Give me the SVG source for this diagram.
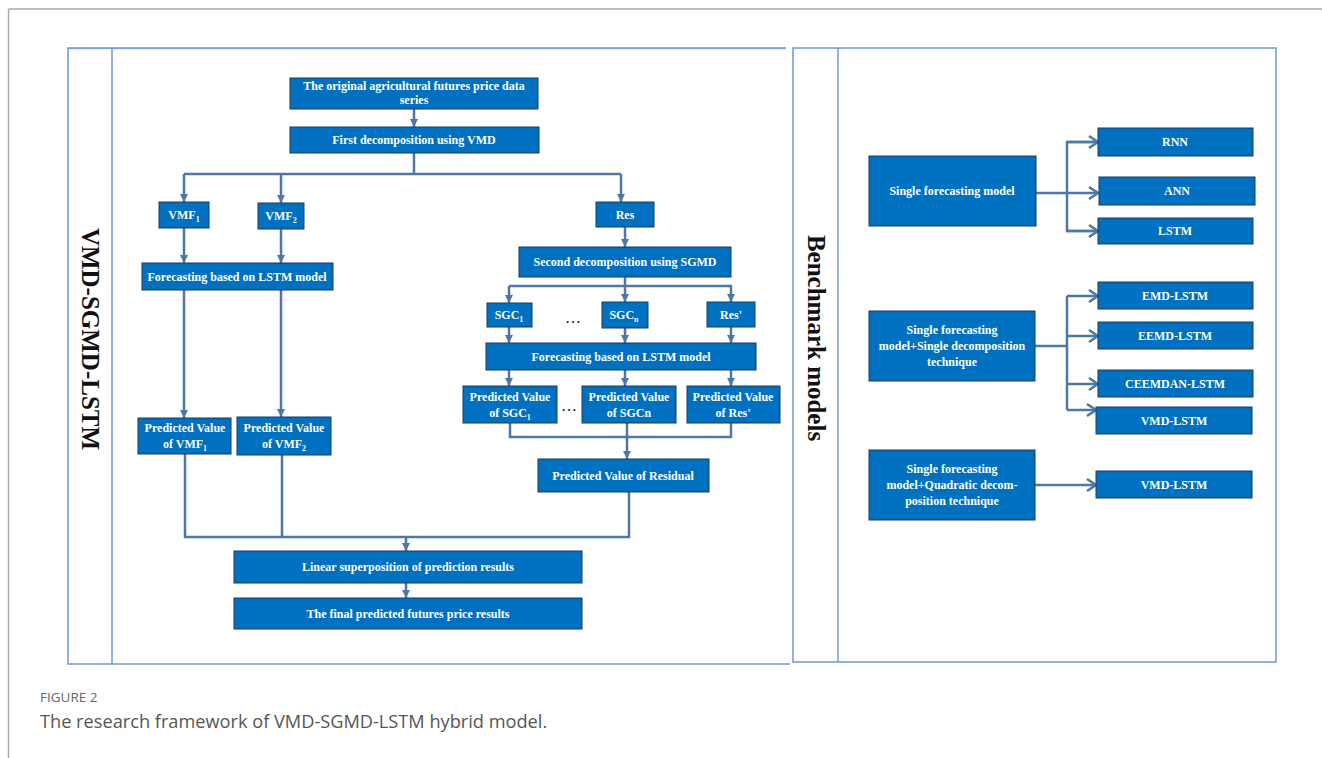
<svg xmlns="http://www.w3.org/2000/svg" width="1322" height="758" viewBox="0 0 1322 758">
<style>
.box{fill:#0070c0;stroke:#1d3a5c;stroke-width:1}
.t{fill:#fff;font-family:"Liberation Serif","Times New Roman",serif;font-weight:bold;font-size:12px;text-anchor:middle}
.c{fill:none;stroke:#4d77a5;stroke-width:2.5}
.panel{fill:none;stroke:#6c9bd2;stroke-width:1.5}
.vt{fill:#111;font-family:"Liberation Serif","Times New Roman",serif;font-weight:bold;font-size:25px;text-anchor:middle}
.dots{fill:#111;font-family:"Liberation Serif","Times New Roman",serif;font-size:16px;text-anchor:middle}
</style>
<defs>
<marker id="ah" markerUnits="userSpaceOnUse" markerWidth="10" markerHeight="10" refX="9" refY="5" orient="auto">
<path d="M1,1 L9,5 L1,9 Z" fill="#4d77a5"/>
</marker>
<marker id="ch" markerUnits="userSpaceOnUse" markerWidth="14" markerHeight="16" refX="12" refY="8" orient="auto">
<path d="M3,2 L12,8 L3,14" fill="none" stroke="#4d77a5" stroke-width="2.5"/>
</marker>
</defs>
<rect width="1322" height="758" fill="#fff"/>
<g id="page">
<line x1="8.5" y1="9" x2="1322" y2="9" stroke="#aaa" stroke-width="1.5"/>
<line x1="8.5" y1="9" x2="8.5" y2="758" stroke="#aaa" stroke-width="1.5"/>
</g>
<g id="panels">
<polyline class="panel" points="786,48 68,48 68,664 790,664"/>
<line class="panel" x1="68" y1="48.5" x2="786" y2="48.5" stroke-width="3" opacity="0.6"/>
<line class="panel" x1="112" y1="48" x2="112" y2="664"/>
<rect class="panel" x="793" y="48" width="483" height="614"/>
<line class="panel" x1="838" y1="48" x2="838" y2="662"/>
<text class="vt" transform="translate(90,339) rotate(90)" dominant-baseline="central">VMD-SGMD-LSTM</text>
<text class="vt" transform="translate(816,338) rotate(90)" dominant-baseline="central">Benchmark models</text>
</g>
<g id="connectors">
<line class="c" x1="414" y1="109" x2="414" y2="127" marker-end="url(#ah)"/>
<polyline class="c" points="414,153 414,174"/>
<polyline class="c" points="184,174 621,174"/>
<line class="c" x1="184" y1="174" x2="184" y2="202" marker-end="url(#ah)"/>
<line class="c" x1="281" y1="174" x2="281" y2="203" marker-end="url(#ah)"/>
<line class="c" x1="621" y1="174" x2="621" y2="202" marker-end="url(#ah)"/>
<line class="c" x1="184" y1="228" x2="184" y2="263" marker-end="url(#ah)"/>
<line class="c" x1="281" y1="229" x2="281" y2="263" marker-end="url(#ah)"/>
<line class="c" x1="625" y1="227" x2="625" y2="247" marker-end="url(#ah)"/>
<line class="c" x1="184" y1="290" x2="184" y2="418" marker-end="url(#ah)"/>
<line class="c" x1="281" y1="290" x2="281" y2="417" marker-end="url(#ah)"/>
<polyline class="c" points="625,277 625,286"/>
<polyline class="c" points="509,286 732,286"/>
<line class="c" x1="509" y1="286" x2="509" y2="303" marker-end="url(#ah)"/>
<line class="c" x1="625" y1="286" x2="625" y2="302" marker-end="url(#ah)"/>
<line class="c" x1="731" y1="286" x2="731" y2="302" marker-end="url(#ah)"/>
<line class="c" x1="509" y1="327" x2="509" y2="343" marker-end="url(#ah)"/>
<line class="c" x1="625" y1="328" x2="625" y2="343" marker-end="url(#ah)"/>
<line class="c" x1="731" y1="327" x2="731" y2="343" marker-end="url(#ah)"/>
<line class="c" x1="509" y1="370" x2="509" y2="386" marker-end="url(#ah)"/>
<line class="c" x1="625" y1="370" x2="625" y2="386" marker-end="url(#ah)"/>
<line class="c" x1="731" y1="370" x2="731" y2="386" marker-end="url(#ah)"/>
<polyline class="c" points="510,423 510,437 731,437 731,423"/>
<line class="c" x1="627" y1="423" x2="627" y2="459" marker-end="url(#ah)"/>
<polyline class="c" points="185,454 185,537 629,537 629,492"/>
<line class="c" x1="282" y1="455" x2="282" y2="537"/>
<line class="c" x1="406" y1="537" x2="406" y2="551" marker-end="url(#ah)"/>
<line class="c" x1="406" y1="583" x2="406" y2="598" marker-end="url(#ah)"/>
<line class="c" x1="1036" y1="193" x2="1098" y2="193" marker-end="url(#ch)"/>
<polyline class="c" points="1098,142 1067,142 1067,231 1098,231"/>
<line class="c" x1="1067" y1="142" x2="1098" y2="142" marker-end="url(#ch)"/>
<line class="c" x1="1067" y1="231" x2="1098" y2="231" marker-end="url(#ch)"/>
<line class="c" x1="1035" y1="346" x2="1067" y2="346" stroke-width="4.5"/>
<polyline class="c" points="1067,296 1067,410"/>
<line class="c" x1="1067" y1="296" x2="1098" y2="296" marker-end="url(#ch)"/>
<line class="c" x1="1067" y1="336" x2="1098" y2="336" marker-end="url(#ch)"/>
<line class="c" x1="1067" y1="384" x2="1098" y2="384" marker-end="url(#ch)"/>
<line class="c" x1="1067" y1="410" x2="1096" y2="410" marker-end="url(#ch)"/>
<line class="c" x1="1035" y1="485" x2="1096" y2="485" marker-end="url(#ch)"/>
</g>
<g id="n-original"><rect class="box" x="290" y="78" width="248" height="31"/><text class="t" x="414" y="90">The original agricultural futures price data</text><text class="t" x="414" y="104">series</text></g>
<g id="n-vmd"><rect class="box" x="290" y="127" width="249" height="26"/><text class="t" x="414" y="144">First decomposition using VMD</text></g>
<g id="n-vmf1"><rect class="box" x="159" y="202" width="50" height="26"/><text class="t" x="184" y="219">VMF<tspan font-size="8" dy="3">1</tspan></text></g>
<g id="n-vmf2"><rect class="box" x="258" y="203" width="46" height="26"/><text class="t" x="281" y="220">VMF<tspan font-size="8" dy="3">2</tspan></text></g>
<g id="n-res"><rect class="box" x="596" y="202" width="58" height="25"/><text class="t" x="625" y="219">Res</text></g>
<g id="n-lstm1"><rect class="box" x="142" y="263" width="191" height="27"/><text class="t" x="237" y="281">Forecasting based on  LSTM model</text></g>
<g id="n-sgmd"><rect class="box" x="519" y="247" width="212" height="30"/><text class="t" x="625" y="266">Second decomposition using SGMD</text></g>
<g id="n-sgc1"><rect class="box" x="487" y="303" width="45" height="24"/><text class="t" x="509" y="319">SGC<tspan font-size="8" dy="3">1</tspan></text></g>
<text class="dots" x="573" y="323">…</text>
<g id="n-sgcn"><rect class="box" x="602" y="302" width="46" height="26"/><text class="t" x="624" y="319">SGC<tspan font-size="8" dy="3">n</tspan></text></g>
<g id="n-resp"><rect class="box" x="707" y="302" width="48" height="25"/><text class="t" x="731" y="319">Res'</text></g>
<g id="n-lstm2"><rect class="box" x="486" y="343" width="270" height="27"/><text class="t" x="621" y="361">Forecasting based on  LSTM model</text></g>
<g id="n-psgc1"><rect class="box" x="463" y="386" width="94" height="37"/><text class="t" x="510" y="401">Predicted Value</text><text class="t" x="510" y="417">of SGC<tspan font-size="8" dy="3">1</tspan></text></g>
<text class="dots" x="569" y="411">…</text>
<g id="n-psgcn"><rect class="box" x="582" y="386" width="94" height="37"/><text class="t" x="629" y="401">Predicted Value</text><text class="t" x="629" y="417">of SGCn</text></g>
<g id="n-pres"><rect class="box" x="687" y="386" width="93" height="37"/><text class="t" x="733" y="401">Predicted Value</text><text class="t" x="733" y="417">of Res'</text></g>
<g id="n-pvmf1"><rect class="box" x="138" y="418" width="93" height="36"/><text class="t" x="185" y="432">Predicted Value</text><text class="t" x="185" y="448">of VMF<tspan font-size="8" dy="3">1</tspan></text></g>
<g id="n-pvmf2"><rect class="box" x="237" y="417" width="94" height="38"/><text class="t" x="284" y="432">Predicted Value</text><text class="t" x="284" y="448">of VMF<tspan font-size="8" dy="3">2</tspan></text></g>
<g id="n-presid"><rect class="box" x="538" y="459" width="171" height="33"/><text class="t" x="623" y="480">Predicted Value of Residual</text></g>
<g id="n-linear"><rect class="box" x="234" y="551" width="348" height="32"/><text class="t" x="408" y="571">Linear superposition of prediction results</text></g>
<g id="n-final"><rect class="box" x="234" y="598" width="348" height="31"/><text class="t" x="408" y="618">The final predicted futures price results</text></g>
<g id="n-single"><rect class="box" x="869" y="156" width="167" height="70"/><text class="t" x="952" y="195">Single forecasting model</text></g>
<g id="n-rnn"><rect class="box" x="1098" y="128" width="155" height="28"/><text class="t" x="1175" y="146">RNN</text></g>
<g id="n-ann"><rect class="box" x="1099" y="177" width="156" height="28"/><text class="t" x="1177" y="195">ANN</text></g>
<g id="n-lstm"><rect class="box" x="1098" y="218" width="155" height="26"/><text class="t" x="1175" y="235">LSTM</text></g>
<g id="n-singdec"><rect class="box" x="869" y="311" width="166" height="70"/><text class="t" x="952" y="334">Single forecasting</text><text class="t" x="952" y="350">model+Single decomposition</text><text class="t" x="952" y="366">technique</text></g>
<g id="n-emd"><rect class="box" x="1098" y="282" width="155" height="27"/><text class="t" x="1175" y="300">EMD-LSTM</text></g>
<g id="n-eemd"><rect class="box" x="1098" y="322" width="155" height="27"/><text class="t" x="1175" y="340">EEMD-LSTM</text></g>
<g id="n-ceemdan"><rect class="box" x="1098" y="370" width="155" height="27"/><text class="t" x="1175" y="388">CEEMDAN-LSTM</text></g>
<g id="n-vmdlstm"><rect class="box" x="1096" y="407" width="156" height="27"/><text class="t" x="1174" y="425">VMD-LSTM</text></g>
<g id="n-quad"><rect class="box" x="869" y="450" width="166" height="70"/><text class="t" x="952" y="473">Single forecasting</text><text class="t" x="952" y="489">model+Quadratic decom-</text><text class="t" x="952" y="505">position technique</text></g>
<g id="n-vmdlstm2"><rect class="box" x="1096" y="471" width="156" height="27"/><text class="t" x="1174" y="489">VMD-LSTM</text></g>
<g id="caption">
<text x="40" y="702" font-family="'Open Sans','Noto Sans',sans-serif" font-size="13.5" fill="#666">FIGURE 2</text>
<text x="40" y="728" font-family="'Open Sans','Noto Sans',sans-serif" font-size="18.2" fill="#555">The research framework of VMD-SGMD-LSTM hybrid model.</text>
</g>
</svg>
